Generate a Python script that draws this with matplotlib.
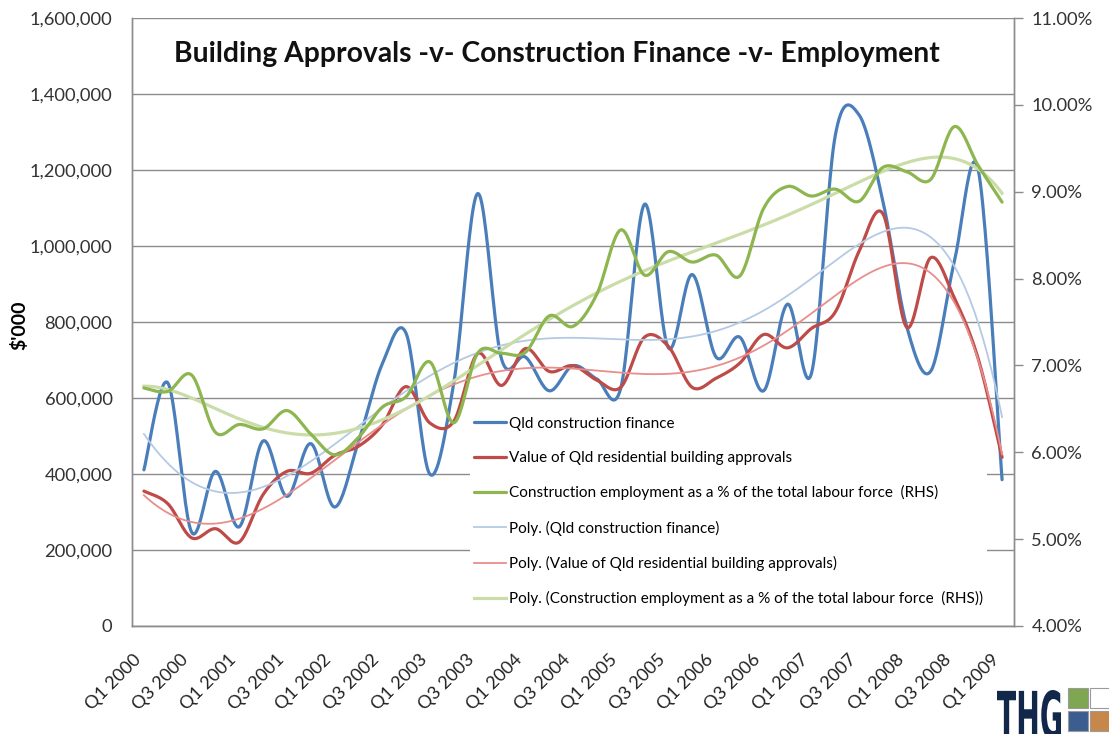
import matplotlib
matplotlib.use("Agg")
import matplotlib.pyplot as plt
import numpy as np
from matplotlib.font_manager import FontProperties
from matplotlib.patches import PathPatch, Rectangle
from matplotlib.textpath import TextPath
from matplotlib.ticker import FuncFormatter
from matplotlib.transforms import Affine2D, IdentityTransform

# quarterly data, Q1 2000 .. Q1 2009
quarters = [f"Q{q} {y}" for y in range(2000, 2010) for q in (1, 2, 3, 4)][:37]

# $'000
finance = [411, 640, 247, 407, 261, 487, 341, 480, 313, 485, 690, 770, 399,
           640, 1138, 703, 708, 619, 685, 650, 625, 1110, 732, 925, 708, 760,
           619, 847, 664, 1290, 1345, 1118, 788, 670, 960, 1200, 385]
approvals = [355, 322, 232, 256, 221, 346, 407, 402, 449, 473, 529, 630, 534,
             539, 717, 633, 730, 670, 685, 647, 628, 760, 736, 628, 652, 692,
             767, 732, 783, 826, 986, 1085, 786, 969, 863, 703, 444]
# % of total labour force (RHS)
employment = [6.74, 6.70, 6.89, 6.23, 6.32, 6.27, 6.48, 6.21, 5.97, 6.17,
              6.52, 6.64, 7.04, 6.34, 7.14, 7.14, 7.15, 7.57, 7.45, 7.82,
              8.56, 8.04, 8.31, 8.19, 8.27, 8.03, 8.81, 9.06, 8.95, 9.03,
              8.89, 9.28, 9.23, 9.14, 9.75, 9.30, 8.88]

labels = ["Qld construction finance",
          "Value of Qld residential building approvals",
          "Construction employment as a % of the total labour force  (RHS)"]

BLUE, RED, GREEN = "#4A7EBB", "#BE4B48", "#8DB650"
LBLUE, LRED, LGREEN = "#B4CAE4", "#E88E8C", "#CADDA8"
FONT = "Lato"


def smooth(xs, ys, n=24):
    """Excel style smoothed line (cubic bezier through the points)."""
    xs = np.asarray(xs, float)
    ys = np.asarray(ys, float)
    m = len(xs)
    ox, oy = [xs[0]], [ys[0]]
    t = np.linspace(0, 1, n)[1:]
    for i in range(m - 1):
        a = max(i - 1, 0)
        d = min(i + 2, m - 1)
        p0 = np.array([xs[i], ys[i]])
        p3 = np.array([xs[i + 1], ys[i + 1]])
        c1 = p0 + (p3 - np.array([xs[a], ys[a]])) / 6
        c2 = p3 - (np.array([xs[d], ys[d]]) - p0) / 6
        pts = ((1 - t) ** 3)[:, None] * p0 + (3 * (1 - t) ** 2 * t)[:, None] * c1 \
            + (3 * (1 - t) * t ** 2)[:, None] * c2 + (t ** 3)[:, None] * p3
        ox.extend(pts[:, 0])
        oy.extend(pts[:, 1])
    return np.array(ox), np.array(oy)


def poly_trend(ys, order=6):
    xs = np.arange(1, len(ys) + 1)
    p = np.polynomial.Polynomial.fit(xs, ys, order)
    xd = np.linspace(1, len(ys), 400)
    return xd - 1, p(xd)


x = np.arange(len(quarters))
fin = np.array(finance) * 1000.0
app = np.array(approvals) * 1000.0
emp = np.array(employment)

fig = plt.figure(figsize=(11.09, 7.34), dpi=100)
ax = fig.add_axes([132 / 1109, 1 - 626 / 734, 882 / 1109, 608 / 734])
ax2 = ax.twinx()

h1, = ax.plot(*smooth(x, fin), color=BLUE, lw=2.3, solid_capstyle="round", zorder=3)
h2, = ax.plot(*smooth(x, app), color=RED, lw=2.3, solid_capstyle="round", zorder=3)
h3, = ax2.plot(*smooth(x, emp), color=GREEN, lw=2.3, solid_capstyle="round", zorder=3)
h4, = ax.plot(*poly_trend(fin), color=LBLUE, lw=1.3, zorder=4)
h5, = ax.plot(*poly_trend(app), color=LRED, lw=1.3, zorder=4)
h6, = ax2.plot(*poly_trend(emp), color=LGREEN, lw=2.3, zorder=2)

ax.set_xlim(-0.5, len(x) - 0.5)
ax.set_ylim(0, 1600000)
ax2.set_ylim(4, 11)

ax.set_yticks(np.arange(0, 1600001, 200000))
ax.yaxis.set_major_formatter(FuncFormatter(lambda v, p: f"{v:,.0f}"))
ax2.set_yticks(np.arange(4, 11.01, 1))
ax2.yaxis.set_major_formatter(FuncFormatter(lambda v, p: f"{v:.2f}%"))

ax.set_xticks(x[::2])
ax.set_xticklabels(quarters[::2], rotation=45, ha="right", va="top",
                   fontsize=13, family=FONT, color="#222222")
ax.tick_params(axis="x", length=0, pad=18)
ax.tick_params(axis="y", length=0, pad=14, labelsize=13.2, labelcolor="#333333")
ax2.tick_params(axis="y", length=6.5, width=1, color="#8C8C8C", pad=6,
                labelsize=13.2, labelcolor="#333333")
for lab in ax.get_yticklabels() + ax2.get_yticklabels():
    lab.set_family(FONT)

ax.yaxis.grid(True, color="#8C8C8C", lw=1)
ax.set_axisbelow(True)
for a in (ax, ax2):
    a.spines["top"].set_visible(False)
    for s in ("left", "right", "bottom"):
        a.spines[s].set_color("#8C8C8C")
        a.spines[s].set_linewidth(1)

leg = ax2.legend([h1, h2, h3, h4, h5, h6],
                 labels + [f"Poly. ({s})" for s in labels],
                 loc="upper left", bbox_to_anchor=(0.383, 0.352),
                 prop={"family": FONT, "size": 11}, frameon=True,
                 facecolor="white", edgecolor="none", framealpha=1,
                 fancybox=False, borderpad=0.3, handlelength=2.1,
                 handletextpad=0.15, labelspacing=1.33, borderaxespad=0)
leg.set_zorder(10)

fig.text(557 / 1109, 1 - 54 / 734,
         "Building Approvals -v- Construction Finance -v- Employment",
         ha="center", va="center", fontsize=20.3, fontweight="bold",
         family=FONT, color="#111111")
fig.text(19 / 1109, 1 - 325 / 734, "$'000", rotation=90, ha="center",
         va="center", fontsize=14, fontweight="bold", family=FONT)

# THG logo in the corner (condensed lettering, in pixels)
tp = TextPath((0, 0), "THG", size=1,
              prop=FontProperties(family="DejaVu Sans", weight="bold"))
ext = tp.get_extents()
sx = 64 / ext.width
sy = 50 / ext.height
logo_tr = Affine2D().translate(-ext.x0, -ext.y0).scale(sx, sy).translate(997, -6)
fig.patches.append(PathPatch(tp, transform=logo_tr + IdentityTransform(),
                             facecolor="#12284A", edgecolor="none"))
for (lx, ly, c) in [(1068, 688, "#7FA650"), (1090, 688, "#FFFFFF"),
                    (1068, 711, "#3C5D8F"), (1090, 711, "#C8874A")]:
    fig.patches.append(Rectangle((lx / 1109, 1 - (ly + 20) / 734), 20 / 1109,
                                 20 / 734, transform=fig.transFigure,
                                 facecolor=c, edgecolor="#9A9A9A", lw=0.8))

fig.savefig("out.png", dpi=100)
